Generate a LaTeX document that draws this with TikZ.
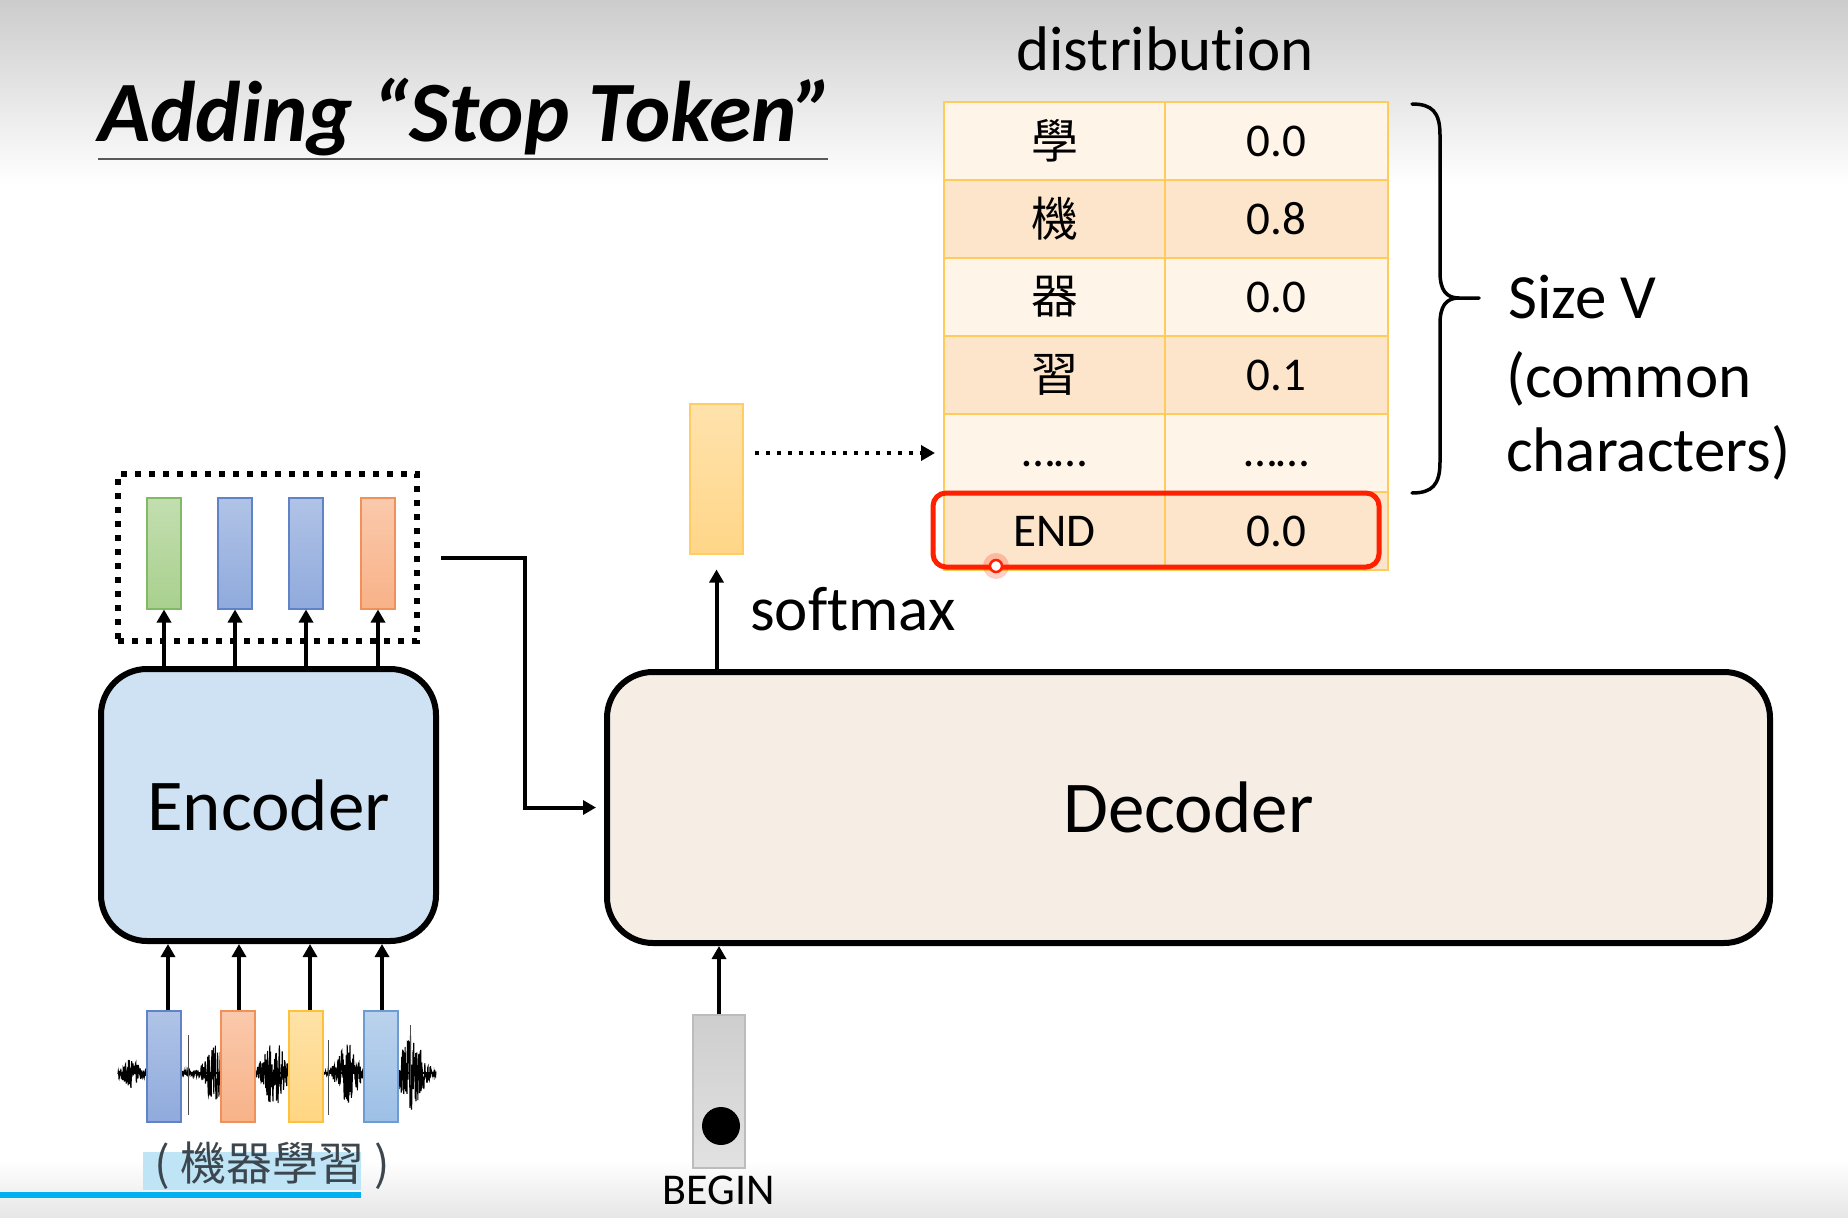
\documentclass[tikz,border=0pt]{standalone}
\usepackage{fontspec}
\setmainfont{Carlito}[Ligatures=NoCommon]
\newfontfamily\cjk{Noto Sans CJK TC}
\usetikzlibrary{arrows.meta,calc}
\newcommand\fsz[1]{\fontsize{#1}{#1}\selectfont}

\definecolor{bgtop}{RGB}{204,204,204}
\definecolor{bgbot}{RGB}{230,230,230}
\definecolor{encfill}{RGB}{207,226,243}
\definecolor{decfill}{RGB}{246,238,229}
\definecolor{cellline}{RGB}{255,204,92}
\definecolor{rowlight}{RGB}{254,244,232}
\definecolor{rowdark}{RGB}{252,229,203}
\definecolor{endred}{RGB}{255,32,0}
\definecolor{grnfill}{RGB}{169,208,142}
\definecolor{grnline}{RGB}{130,185,100}
\definecolor{bluefill}{RGB}{143,170,220}
\definecolor{blueline}{RGB}{95,130,200}
\definecolor{orgfill}{RGB}{248,178,136}
\definecolor{orgline}{RGB}{240,145,90}
\definecolor{yelfill}{RGB}{255,214,130}
\definecolor{yelline}{RGB}{255,192,60}
\definecolor{ltbluefill}{RGB}{157,192,230}
\definecolor{ltblueline}{RGB}{110,155,210}
\definecolor{probfill}{RGB}{255,214,136}
\definecolor{probline}{RGB}{255,205,100}
\definecolor{begfill}{RGB}{206,206,206}
\definecolor{begline}{RGB}{188,188,188}
\definecolor{progress}{RGB}{0,176,240}
\definecolor{hilite}{RGB}{190,228,245}
\definecolor{subtxt}{RGB}{60,70,78}

\begin{document}
\begin{tikzpicture}[x=1pt,y=-1pt,
  declare function={
    env(\t)=3
      +12*max(0,1-abs(\t-131)/14)
      +30*max(0,1-abs(\t-214)/16)
      +36*max(0,1-abs(\t-274)/18)
      +30*max(0,1-abs(\t-348)/18)
      +36*max(0,1-abs(\t-411)/22);
  },
  arr/.style={line width=4pt,-{Triangle[length=13pt,width=14pt]}},
  dotarr/.style={line width=4.5pt,dash pattern=on 4.5pt off 6.5pt,-{Triangle[length=14pt,width=15pt]}},
  block/.style={draw=black,line width=6pt,rounded corners=46pt,inner sep=0pt,font=\fsz{73}},
  vbar/.style 2 args={draw=#2,line width=1.5pt,top color=#1!70!white,bottom color=#1,
    minimum width=34pt,minimum height=111pt,inner sep=0pt,anchor=north},
  cell/.style={draw=cellline,line width=2pt,minimum height=78pt,inner sep=0pt,
    anchor=north west,font=\fsz{47}},
  lcell/.style={cell,minimum width=221pt},
  rcell/.style={cell,minimum width=223pt},
  body/.style={font=\fsz{63}},
]
\useasboundingbox (0,0) rectangle (1848,1218);

% page background
\fill[white] (0,0) rectangle (1848,1218);
\shade[top color=bgtop,bottom color=white] (0,0) rectangle (1848,185);
\shade[top color=white,bottom color=bgbot] (0,1160) rectangle (1848,1218);

% title
\node[anchor=base west,font=\fsz{86}\bfseries\itshape,inner sep=0pt] (title) at (98,141) {Adding “Stop Token”};
\draw[line width=2.5pt,black!65] (title.base west |- 0,159) -- (828,159);

% encoder
\node[block,fill=encfill,minimum width=335pt,minimum height=272pt] (enc) at (268.5,805) {Encoder};

% audio waveform under the input vectors
\pgfmathsetseed{7}
\draw[line width=1.1pt] plot[domain=118:436,samples=1000] (\x,{1073+env(\x)*rand});
\draw[line width=1.2pt] (118,1073) -- (436,1073);
\draw[line width=1pt,black!70] (188,1035) -- (188,1115);
\draw[line width=1pt,black!70] (328,1040) -- (328,1115);
\draw[line width=1pt,black!70] (410,1025) -- (410,1085);

% input vectors
\node[vbar={bluefill}{blueline}] (i1) at (164,1010) {};
\node[vbar={orgfill}{orgline}] (i2) at (238,1010) {};
\node[vbar={yelfill}{yelline}] (i3) at (306,1010) {};
\node[vbar={ltbluefill}{ltblueline}] (i4) at (381,1010) {};
\foreach \i/\dx in {1/4,2/1,3/4,4/1}
  \draw[arr] ([xshift=\dx pt]i\i.north) -- ([xshift=\dx pt]i\i.north |- enc.south);

% subtitle strip
\fill[hilite] (143,1152) rectangle (361,1190);
\node[font=\cjk\fsz{46},text=subtxt,inner sep=0pt] (sub) at (272,1166) {( 機器學習 )};

% encoder outputs
\node[vbar={grnfill}{grnline}] (o1) at (164,497) {};
\node[vbar={bluefill}{blueline}] (o2) at (235,497) {};
\node[vbar={bluefill}{blueline}] (o3) at (306,497) {};
\node[vbar={orgfill}{orgline}] (o4) at (378,497) {};
\foreach \i in {1,...,4}
  \draw[arr] (o\i.south |- enc.north) -- (o\i.south);
\node[draw,line width=6pt,dash pattern=on 6pt off 8pt,minimum width=299pt,minimum height=167pt,inner sep=0pt] (dots) at (267.5,557.5) {};

% decoder
\node[block,fill=decfill,minimum width=1163pt,minimum height=271pt] (dec) at (1188.5,807.5) {Decoder};
\draw[arr,shorten <=21pt,shorten >=8pt] (dots.east) -- ($(dots.east)+(105,0)$) |- (dec.west);

% BEGIN token
\node[draw=begline,line width=1.5pt,top color=begfill,bottom color=begfill!60!white,
  minimum width=52pt,minimum height=153pt,inner sep=0pt,anchor=north] (begin) at (719,1014) {};
\fill[black] (721,1126) circle (19pt);
\draw[arr] (begin.north) -- (begin.north |- dec.south);
\node[anchor=base,font=\fsz{44},inner sep=0pt] (beglab) at (719,1204) {BEGIN};

% softmax output
\node[draw=probline,line width=1.5pt,top color=probfill!70!white,bottom color=probfill,
  minimum width=53pt,minimum height=150pt,inner sep=0pt,anchor=north] (prob) at (716.5,403) {};
\draw[arr,shorten >=15pt] (prob.south |- dec.north) -- (prob.south);
\node[body,anchor=base west,inner sep=0pt] (smx) at (750,630) {softmax};

% distribution table
\node[body,anchor=base,inner sep=0pt] (dist) at (1165,70) {distribution};
\foreach \r/\y/\c/\a/\b in {1/101/rowlight/{\cjk 學}/0.0, 2/179/rowdark/{\cjk 機}/0.8,
    3/257/rowlight/{\cjk 器}/0.0, 4/335/rowdark/{\cjk 習}/0.1,
    5/413/rowlight/{\raisebox{-13pt}[0pt][0pt]{……}}/{\raisebox{-13pt}[0pt][0pt]{……}},
    6/491/rowdark/END/0.0}{
  \node[lcell,fill=\c] (a\r) at (943,\y) {\a};
  \node[rcell,fill=\c] (b\r) at (1164,\y) {\b};
}
\draw[dotarr,shorten <=11pt,shorten >=8pt] (prob.east |- a5.west) -- (a5.west);

% highlight of the END row
\node[draw=endred,line width=5pt,rounded corners=13pt,minimum width=446pt,minimum height=74pt,inner sep=0pt] (endbox) at (1156,530) {};
\fill[endred,opacity=0.22] (996,566) circle (13pt);
\draw[endred,line width=2.5pt,fill=white] (996,566) circle (6pt);

% brace spanning the vocabulary rows
\draw[line width=3.5pt,line cap=round,line join=round]
  (1412,104) .. controls (1432,104) and (1440,112) .. (1440,135) -- (1440,272)
  .. controls (1440,290) and (1446,298) .. (1459,298) -- (1479,298)
  (1459,298) .. controls (1446,298) and (1440,306) .. (1440,324) -- (1440,462)
  .. controls (1440,485) and (1432,493) .. (1412,493);
\node[body,anchor=base west,inner sep=0pt] (sz1) at (1508,318) {Size V};
\node[body,anchor=base west,inner sep=0pt] (sz2) at (1506,397) {(common};
\node[body,anchor=base west,inner sep=0pt] (sz3) at (1506,471) {characters)};

% video progress bar along the bottom
\fill[progress] (0,1192) rectangle (361,1198);
\end{tikzpicture}
\end{document}
